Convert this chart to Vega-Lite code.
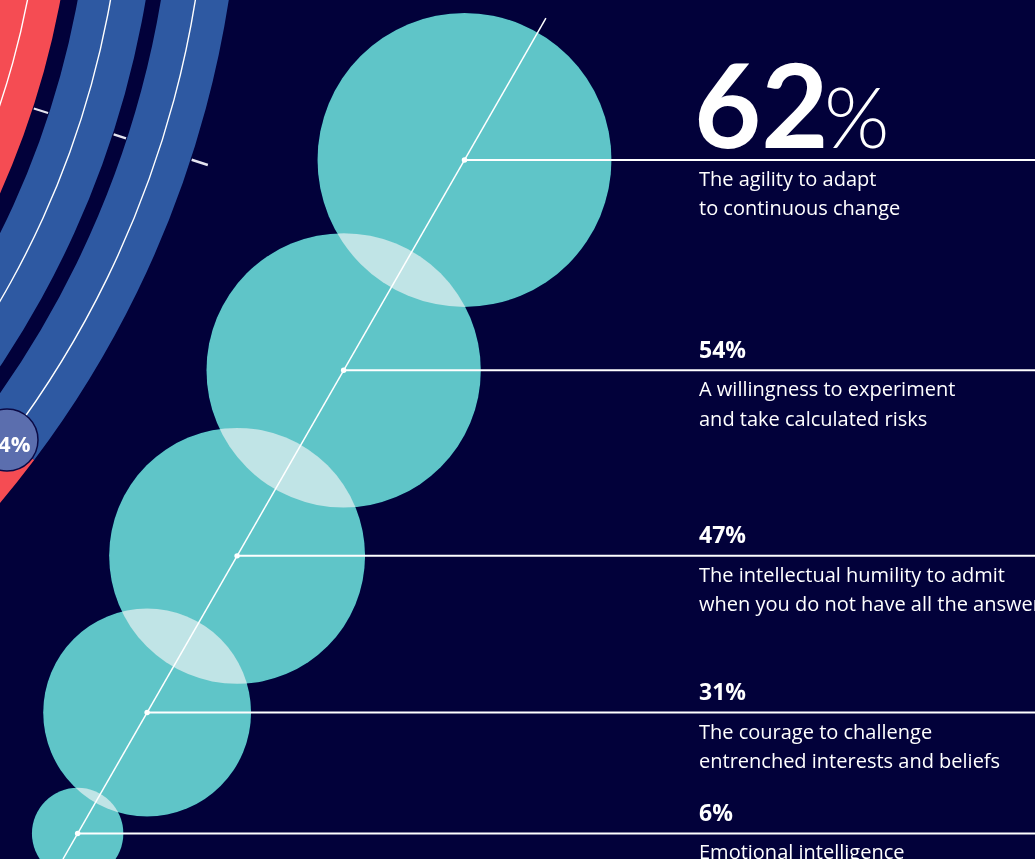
{
  "$schema": "https://vega.github.io/schema/vega-lite/v6.json",
  "width": 1035,
  "height": 859,
  "padding": 0,
  "autosize": {"type": "none"},
  "background": "#02013a",
  "config": {"view": {"stroke": null}},
  "datasets": {
    "items": [
      {"rank": 5, "pct": 62, "label": "62%", "desc": "The agility to adapt\nto continuous change"},
      {"rank": 4, "pct": 54, "label": "54%", "desc": "A willingness to experiment\nand take calculated risks"},
      {"rank": 3, "pct": 47, "label": "47%", "desc": "The intellectual humility to admit\nwhen you do not have all the answers"},
      {"rank": 2, "pct": 31, "label": "31%", "desc": "The courage to challenge\nentrenched interests and beliefs"},
      {"rank": 1, "pct": 6, "label": "6%", "desc": "Emotional intelligence"}
    ],
    "fragment": [{"label": "24%"}]
  },
  "layer": [
    {"data": {"name": "fragment"}, "mark": {"type": "arc", "x": -786, "y": -158, "radius": 861, "radius2": 796, "theta": 1.45, "theta2": 2.7, "fill": "#f54c53"}, "encoding": {}},
    {"data": {"name": "fragment"}, "mark": {"type": "arc", "x": -786, "y": -158, "radius": 945, "radius2": 878, "theta": 1.45, "theta2": 2.7, "fill": "#2e59a2"}, "encoding": {}},
    {"data": {"name": "fragment"}, "mark": {"type": "arc", "x": -786, "y": -158, "radius": 1027, "radius2": 960, "theta": 1.45, "theta2": 2.2166, "fill": "#2e59a2"}, "encoding": {}},
    {"data": {"name": "fragment"}, "mark": {"type": "arc", "x": -786, "y": -158, "radius": 1027, "radius2": 960, "theta": 2.2166, "theta2": 2.8, "fill": "#f54c53"}, "encoding": {}},
    {"data": {"name": "fragment"}, "mark": {"type": "arc", "x": -786, "y": -158, "radius": 829.4, "radius2": 828, "theta": 1.45, "theta2": 2.7, "fill": "#ffffff"}, "encoding": {}},
    {"data": {"name": "fragment"}, "mark": {"type": "arc", "x": -786, "y": -158, "radius": 911, "radius2": 909.6, "theta": 1.45, "theta2": 2.7, "fill": "#ffffff"}, "encoding": {}},
    {"data": {"name": "fragment"}, "mark": {"type": "arc", "x": -786, "y": -158, "radius": 994.7, "radius2": 993.3, "theta": 1.45, "theta2": 2.2166, "fill": "#ffffff"}, "encoding": {}},
    {"data": {"name": "fragment"}, "mark": {"type": "arc", "x": -786, "y": -158, "radius": 877, "radius2": 862, "theta": 1.8838, "theta2": 1.8862, "fill": "#e4e4ee"}, "encoding": {}},
    {"data": {"name": "fragment"}, "mark": {"type": "arc", "x": -786, "y": -158, "radius": 959, "radius2": 946, "theta": 1.8838, "theta2": 1.8862, "fill": "#e4e4ee"}, "encoding": {}},
    {"data": {"name": "fragment"}, "mark": {"type": "arc", "x": -786, "y": -158, "radius": 1045, "radius2": 1028, "theta": 1.8838, "theta2": 1.8862, "fill": "#e4e4ee"}, "encoding": {}},
    {"data": {"name": "fragment"}, "mark": {"type": "point", "shape": "circle", "x": 7, "y": 440, "size": 3844, "filled": true, "fill": "#5b6eae", "stroke": "#0b0a45", "strokeWidth": 1.5, "opacity": 1}, "encoding": {}},
    {"data": {"name": "fragment"}, "mark": {"type": "text", "x": 30.5, "y": 452, "align": "right", "baseline": "alphabetic", "font": "Open Sans", "fontSize": 22, "fontWeight": 700, "color": "#ffffff"}, "encoding": {"text": {"field": "label"}}},
    {
      "data": {"name": "items"},
      "mark": {"type": "circle", "fill": "#2faaae", "opacity": 1, "strokeWidth": 0},
      "encoding": {
        "x": {"field": "rank", "type": "quantitative", "axis": null, "scale": {"type": "pow", "exponent": 1.5, "domain": [-1.0288, 8.82], "zero": false, "nice": false}},
        "y": {"field": "rank", "type": "quantitative", "axis": null, "scale": {"type": "pow", "exponent": 1.5, "domain": [0.7228, 5.697], "zero": false, "nice": false}},
        "size": {"field": "pct", "type": "quantitative", "legend": null, "scale": {"type": "linear", "domain": [0, 62], "range": [0, 86436], "zero": true}}
      }
    },
    {
      "data": {"name": "items"},
      "mark": {"type": "circle", "fill": "#812321", "opacity": 1, "strokeWidth": 0, "blend": "color-dodge"},
      "encoding": {
        "x": {"field": "rank", "type": "quantitative", "axis": null},
        "y": {"field": "rank", "type": "quantitative", "axis": null},
        "size": {"field": "pct", "type": "quantitative", "legend": null}
      }
    },
    {
      "data": {"name": "fragment"},
      "mark": {"type": "rule", "color": "#ffffff", "strokeWidth": 1.5},
      "encoding": {
        "x": {"datum": 5.62, "type": "quantitative", "axis": null},
        "y": {"datum": 5.62, "type": "quantitative", "axis": null},
        "x2": {"datum": 0.7228},
        "y2": {"datum": 0.7228}
      }
    },
    {
      "data": {"name": "items"},
      "mark": {"type": "rule", "color": "#ffffff", "strokeWidth": 2},
      "encoding": {
        "x": {"field": "rank", "type": "quantitative", "axis": null},
        "x2": {"value": "width"},
        "y": {"field": "rank", "type": "quantitative", "axis": null}
      }
    },
    {
      "data": {"name": "items"},
      "mark": {"type": "circle", "fill": "#ffffff", "opacity": 1, "size": 30},
      "encoding": {
        "x": {"field": "rank", "type": "quantitative", "axis": null},
        "y": {"field": "rank", "type": "quantitative", "axis": null}
      }
    },
    {
      "data": {"name": "items"},
      "mark": {"type": "text", "x": 699, "dy": 26, "align": "left", "baseline": "alphabetic", "font": "Open Sans", "fontSize": 20, "fontWeight": 500, "letterSpacing": 0.3, "lineBreak": "\n", "lineHeight": 29.5, "color": "#ffffff"},
      "encoding": {
        "y": {"field": "rank", "type": "quantitative", "axis": null},
        "text": {"field": "desc"}
      }
    },
    {
      "data": {"name": "items"},
      "transform": [{"filter": "datum.rank < 5"}],
      "mark": {"type": "text", "x": 699, "dy": -12.5, "align": "left", "baseline": "alphabetic", "font": "Open Sans", "fontSize": 23, "fontWeight": 700, "color": "#ffffff"},
      "encoding": {
        "y": {"field": "rank", "type": "quantitative", "axis": null},
        "text": {"field": "label"}
      }
    },
    {
      "data": {"name": "items"},
      "transform": [{"filter": "datum.rank == 5"}],
      "mark": {"type": "text", "x": 694, "dy": -12, "align": "left", "baseline": "alphabetic", "font": "Lato", "fontSize": 116, "fontWeight": 700, "color": "#ffffff"},
      "encoding": {
        "y": {"field": "rank", "type": "quantitative", "axis": null},
        "text": {"field": "pct", "type": "quantitative"}
      }
    },
    {
      "data": {"name": "items"},
      "transform": [{"filter": "datum.rank == 5"}],
      "mark": {"type": "text", "x": 824, "dy": -12, "align": "left", "baseline": "alphabetic", "font": "Lato", "fontSize": 84, "fontWeight": 300, "color": "#ffffff"},
      "encoding": {
        "y": {"field": "rank", "type": "quantitative", "axis": null},
        "text": {"value": "%"}
      }
    }
  ]
}
